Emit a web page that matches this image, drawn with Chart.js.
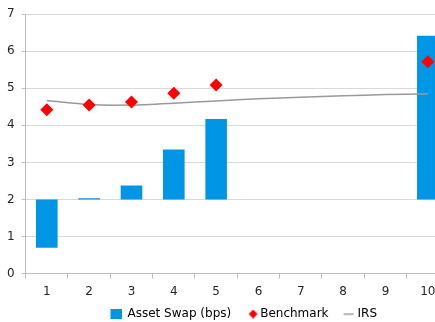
<!DOCTYPE html>
<html>
<head>
<meta charset="utf-8">
<script src="https://cdn.jsdelivr.net/npm/chart.js@4"></script>
<style>
html,body{margin:0;padding:0;background:#fff;}
#wrap{width:435px;height:322px;overflow:hidden;position:relative;}
canvas{display:block;}
</style>
</head>
<body>
<div id="wrap"><canvas id="c" width="488" height="322"></canvas></div>
<script>
const categories = ['1','2','3','4','5','6','7','8','9','10'];
const swapBase = 2;
const assetSwap = [0.7, 2.03, 2.38, 3.35, 4.17, null, null, null, null, 6.42];
const benchmark = [4.42, 4.55, 4.63, 4.87, 5.09, null, null, null, null, 5.72];
const irs = [4.67, 4.56, 4.55, 4.6, 4.66, 4.72, 4.76, 4.8, 4.83, 4.85];
const yTicks = [0, 1, 2, 3, 4, 5, 6, 7];

const BLUE = '#0096e6';
const RED = '#ff0000';
const GREY = '#9a9a9a';

function icon(w, h, draw) {
  const c = document.createElement('canvas');
  c.width = w; c.height = h;
  draw(c.getContext('2d'));
  return c;
}
// legend icons (canvas is centred on the legend box; offsets place the mark within it)
const boxIcon = icon(20, 10, g => { g.fillStyle = BLUE; g.fillRect(9, 0, 11, 10); });
const diaIcon = icon(28, 9, g => { g.fillStyle = RED; g.beginPath(); g.moveTo(23,0); g.lineTo(27.5,4.5); g.lineTo(23,9); g.lineTo(18.5,4.5); g.closePath(); g.fill(); });
const lineIcon = icon(26, 3, g => { g.strokeStyle = GREY; g.lineWidth = 1.5; g.beginPath(); g.moveTo(15,1.5); g.lineTo(25,1.5); g.stroke(); });
const icons = [boxIcon, diaIcon, lineIcon];

Chart.defaults.font.family = '"DejaVu Sans", Verdana, sans-serif';
Chart.defaults.font.size = 12;
Chart.defaults.color = '#262626';

const legendShift = {
  id: 'legendShift',
  afterLayout(chart) {
    const lg = chart.legend;
    if (lg) {
      const want = 100; // left edge of first legend box
      const cur = (lg.left + lg.right - lg.lineWidths[0]) / 2;
      const d = want - cur;
      lg.left += d; lg.right += d;
    }
  }
};

new Chart(document.getElementById('c'), {
  data: {
    labels: categories,
    datasets: [
      {
        type: 'bar',
        label: 'Asset Swap (bps)',
        data: assetSwap.map(v => v == null ? null : [swapBase, v]),
        backgroundColor: BLUE,
        borderWidth: 0,
        categoryPercentage: 1,
        barPercentage: 0.51,
        order: 3
      },
      {
        type: 'line',
        label: 'Benchmark',
        data: benchmark,
        showLine: false,
        pointStyle: 'rectRot',
        pointRadius: 6.5,
        pointBackgroundColor: RED,
        pointBorderWidth: 0,
        order: 1
      },
      {
        type: 'line',
        label: 'IRS',
        data: irs,
        borderColor: GREY,
        borderWidth: 1.5,
        pointRadius: 0,
        tension: 0.2,
        fill: false,
        order: 2
      }
    ]
  },
  plugins: [legendShift],
  options: {
    responsive: false,
    animation: false,
    layout: { padding: { left: 0, right: 39, top: 8, bottom: -8 } },
    plugins: {
      tooltip: { enabled: false },
      legend: {
        position: 'bottom',
        labels: {
          usePointStyle: true,
          pointStyleWidth: 20,
          boxHeight: 10,
          padding: 3,
          color: '#262626',
          generateLabels(chart) {
            return chart.data.datasets.map((ds, i) => ({
              text: ds.label,
              pointStyle: icons[i],
              fillStyle: 'transparent',
              strokeStyle: 'transparent',
              lineWidth: 0,
              hidden: false,
              datasetIndex: i
            }));
          }
        }
      }
    },
    scales: {
      x: {
        offset: true,
        grid: { offset: true, drawOnChartArea: false, drawTicks: true, tickLength: 5, color: '#bfbfbf' },
        border: { color: '#bfbfbf' },
        ticks: { padding: 6, color: '#262626' }
      },
      y: {
        min: 0, max: 7,
        afterBuildTicks(axis) { axis.ticks = yTicks.map(v => ({ value: v })); },
        grid: { color: '#d9d9d9', tickLength: 4, tickColor: '#bfbfbf' },
        border: { color: '#bfbfbf' },
        ticks: { padding: 7, color: '#262626' }
      }
    }
  }
});
</script>
</body>
</html>
